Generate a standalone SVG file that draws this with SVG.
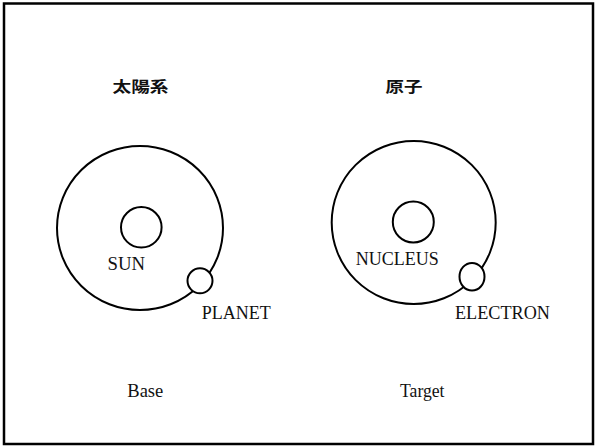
<svg xmlns="http://www.w3.org/2000/svg" width="595" height="446" viewBox="0 0 595 446">
<style>
.orbit{fill:none;stroke:#000;stroke-width:2}
.body{fill:#fff;stroke:#000;stroke-width:2}
.lbl{font-family:"Liberation Serif","Times New Roman",serif;font-size:19px;fill:#111}
.ttl{font-family:"Noto Sans CJK JP","Noto Sans CJK SC",sans-serif;font-size:15px;font-weight:bold;fill:#111}
</style>
<rect x="4" y="3.5" width="589" height="440.5" fill="#fff" stroke="#000" stroke-width="2.5"/>
<g id="base">
<text class="ttl" x="112.5" y="92" textLength="56" lengthAdjust="spacingAndGlyphs">太陽系</text>
<ellipse id="orbit-base" class="orbit" cx="140" cy="228" rx="83" ry="82"/>
<g id="sun"><circle class="body" cx="141.3" cy="227.3" r="20.3"/><text class="lbl" x="107.5" y="269.5" textLength="37.5" lengthAdjust="spacingAndGlyphs">SUN</text></g>
<g id="planet"><ellipse class="body" cx="200" cy="280.8" rx="12.5" ry="12.5"/><text class="lbl" x="201.7" y="319" textLength="69" lengthAdjust="spacingAndGlyphs">PLANET</text></g>
<text class="lbl" x="127.3" y="396.8" textLength="36" lengthAdjust="spacingAndGlyphs">Base</text>
</g>
<g id="target">
<text class="ttl" x="385.5" y="92" textLength="37" lengthAdjust="spacingAndGlyphs">原子</text>
<ellipse id="orbit-target" class="orbit" cx="413.7" cy="222.5" rx="82" ry="81.5"/>
<g id="nucleus"><circle class="body" cx="413.3" cy="222" r="20.5"/><text class="lbl" x="355.7" y="265" textLength="83" lengthAdjust="spacingAndGlyphs">NUCLEUS</text></g>
<g id="electron"><ellipse class="body" cx="472" cy="276.7" rx="12.5" ry="13.8"/><text class="lbl" x="455" y="319.3" textLength="95" lengthAdjust="spacingAndGlyphs">ELECTRON</text></g>
<text class="lbl" x="400" y="397" textLength="44.5" lengthAdjust="spacingAndGlyphs">Target</text>
</g>
<g id="connectors"/>
</svg>
